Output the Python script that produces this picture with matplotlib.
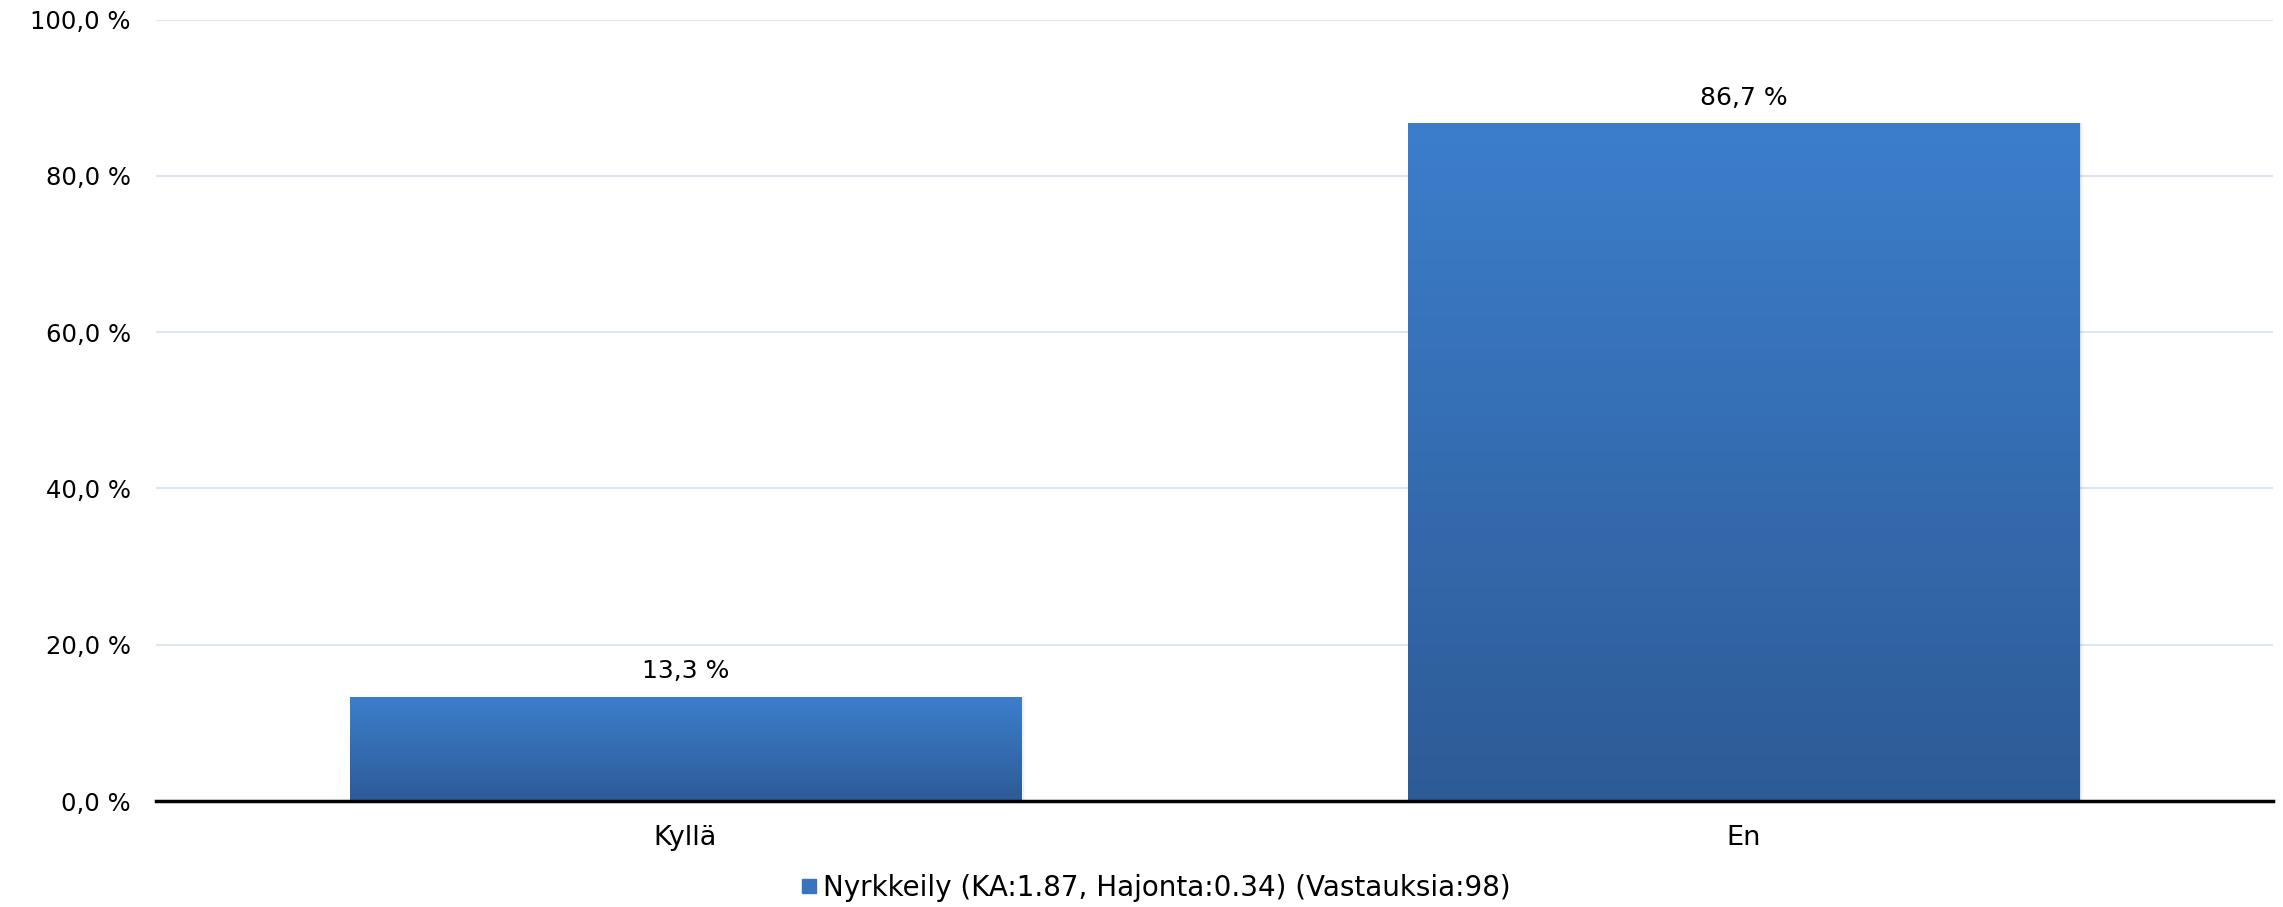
import numpy as np
import matplotlib.pyplot as plt
from matplotlib.colors import LinearSegmentedColormap
from matplotlib.lines import Line2D
from matplotlib.ticker import FuncFormatter

categories = ['Kyllä', 'En']
values = [13.3, 86.7]
series_label = 'Nyrkkeily (KA:1.87, Hajonta:0.34) (Vastauksia:98)'
yticks = [0, 20, 40, 60, 80, 100]

plt.rcParams['font.family'] = 'DejaVu Sans'

fig = plt.figure(figsize=(22.83, 9.07), dpi=100)
ax = fig.add_axes([156 / 2283, 106 / 907, 2117 / 2283, 781.5 / 907])

x = np.arange(len(categories))
bars = ax.bar(x, values, width=0.634, color='none', zorder=3)

# gradient fill, lighter at top
cmap = LinearSegmentedColormap.from_list('bar', ['#2d5b96', '#3c7ecc'])
grad = np.linspace(0, 1, 256).reshape(-1, 1)
for b in bars:
    x0, w, h = b.get_x(), b.get_width(), b.get_height()
    # soft shadow on the right
    for i, a in enumerate([0.06, 0.04, 0.02]):
        ax.add_patch(plt.Rectangle((x0, 0), w + 0.0015 * (i + 1), h, color='black',
                                   alpha=a, lw=0, zorder=2))
    im = ax.imshow(grad, cmap=cmap, origin='lower', aspect='auto',
                   extent=[x0, x0 + w, 0, h], zorder=3)
    im.set_clip_path(b)
    ax.annotate(f'{b.get_height():.1f} %'.replace('.', ','),
                (x0 + w / 2, h), xytext=(0, 10), textcoords='offset points',
                ha='center', va='bottom', fontsize=18)

ax.set_xlim(-0.5, 1.5)
ax.set_ylim(0, 100)
ax.set_yticks(yticks)
ax.yaxis.set_major_formatter(FuncFormatter(lambda v, p: f'{v:.1f} %'.replace('.', ',')))
ax.set_xticks(x)
ax.set_xticklabels(categories, fontsize=19.5)
ax.grid(axis='y', color='#dce6f2', lw=1.5, zorder=0)
ax.set_axisbelow(True)

for s in ['top', 'right', 'left']:
    ax.spines[s].set_visible(False)
ax.spines['bottom'].set_linewidth(2.5)
ax.spines['bottom'].set_zorder(5)
ax.tick_params(axis='both', length=0)
ax.tick_params(axis='y', pad=18, labelsize=17.5)
ax.tick_params(axis='x', pad=17)

handle = Line2D([], [], marker='s', color='#3a73bd', ls='none', markersize=9.5)
fig.legend([handle], [series_label], loc='center', bbox_to_anchor=(0.505, 0.021),
           frameon=False, handletextpad=0.0, handlelength=1.0,
           prop={'size': 20})

fig.savefig('out.png', dpi=100)
